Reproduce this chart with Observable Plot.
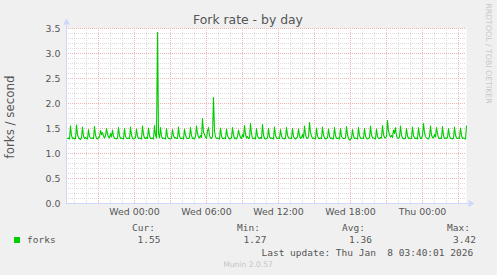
<!DOCTYPE html>
<html><head><meta charset="utf-8">
<script src="https://cdn.jsdelivr.net/npm/d3@7"></script>
<script src="https://cdn.jsdelivr.net/npm/@observablehq/plot@0.6"></script>
<style>
html,body{margin:0;padding:0;background:#f0f0f0;}
#chart{position:relative;width:497px;height:275px;overflow:hidden;background:#f0f0f0;}
</style></head><body><div id="chart"></div>
<script>
// ---- data ----
const title = "Fork rate - by day";
const yLabel = "forks / second";
const seriesName = "forks";
const seriesColor = "#00CC00";
const graphStart = "2026-01-06T18:20:00Z";   // left edge
const graphEnd = "2026-01-08T03:40:00Z";     // right edge (last update)
const stepMinutes = 5;
const forks = [
1.30,1.31,1.29,1.55,1.36,1.30,
1.31,1.29,1.30,1.57,1.38,1.31,
1.30,1.28,1.31,1.53,1.35,1.30,
1.32,1.30,1.29,1.48,1.34,1.31,
1.30,1.31,1.30,1.54,1.37,1.30,
1.29,1.31,1.33,1.46,1.38,1.42,
1.35,1.31,1.36,1.50,1.39,1.33,
1.31,1.40,1.33,1.47,1.35,1.30,
1.30,1.29,1.31,1.52,1.36,1.30,
1.31,1.30,1.29,1.50,1.34,1.31,
1.30,1.31,1.30,1.53,1.37,1.30,
1.29,1.30,1.32,1.49,1.35,1.30,
1.31,1.30,1.29,1.55,1.38,1.31,
1.30,1.32,1.30,1.51,1.36,1.30,
1.30,1.31,1.29,1.56,1.37,1.31,
3.42,1.40,1.31,1.52,1.35,1.30,
1.31,1.30,1.29,1.50,1.34,1.30,
1.30,1.29,1.31,1.48,1.36,1.31,
1.32,1.30,1.30,1.53,1.35,1.30,
1.30,1.31,1.29,1.49,1.37,1.31,
1.30,1.30,1.32,1.52,1.36,1.30,
1.31,1.29,1.34,1.55,1.40,1.33,
1.31,1.36,1.32,1.70,1.42,1.38,
1.33,1.30,1.45,1.52,1.36,1.31,
1.30,1.34,2.12,1.45,1.33,1.30,
1.31,1.30,1.29,1.51,1.35,1.30,
1.30,1.31,1.30,1.49,1.36,1.31,
1.29,1.30,1.31,1.52,1.37,1.30,
1.31,1.29,1.34,1.47,1.38,1.32,
1.30,1.38,1.33,1.56,1.39,1.31,
1.34,1.30,1.31,1.60,1.40,1.30,
1.30,1.31,1.29,1.50,1.35,1.31,
1.30,1.32,1.30,1.58,1.37,1.30,
1.29,1.30,1.31,1.50,1.34,1.30,
1.31,1.30,1.29,1.53,1.36,1.31,
1.30,1.31,1.30,1.48,1.35,1.30,
1.30,1.29,1.31,1.52,1.37,1.31,
1.31,1.30,1.30,1.50,1.34,1.30,
1.29,1.31,1.33,1.49,1.36,1.30,
1.32,1.38,1.31,1.55,1.38,1.31,
1.30,1.33,1.62,1.42,1.35,1.30,
1.31,1.30,1.29,1.51,1.35,1.30,
1.30,1.31,1.30,1.53,1.37,1.31,
1.29,1.30,1.31,1.49,1.35,1.30,
1.31,1.29,1.30,1.52,1.36,1.30,
1.30,1.31,1.29,1.50,1.34,1.31,
1.30,1.30,1.31,1.54,1.38,1.30,
1.27,1.29,1.30,1.48,1.35,1.30,
1.31,1.30,1.29,1.52,1.36,1.31,
1.30,1.31,1.30,1.50,1.35,1.30,
1.29,1.30,1.32,1.55,1.37,1.31,
1.31,1.30,1.29,1.49,1.34,1.30,
1.30,1.32,1.31,1.56,1.38,1.32,
1.31,1.34,1.66,1.45,1.38,1.33,
1.36,1.32,1.47,1.40,1.52,1.35,
1.31,1.30,1.33,1.55,1.37,1.31,
1.30,1.29,1.31,1.50,1.35,1.30,
1.31,1.30,1.30,1.53,1.36,1.31,
1.30,1.31,1.29,1.52,1.37,1.30,
1.30,1.36,1.60,1.42,1.34,1.31,
1.30,1.29,1.34,1.55,1.37,1.32,
1.31,1.38,1.33,1.52,1.40,1.31,
1.30,1.31,1.30,1.54,1.36,1.30,
1.31,1.30,1.32,1.50,1.35,1.30,
1.30,1.29,1.31,1.53,1.37,1.31,
1.30,1.31,1.30,1.51,1.36,1.30,
1.31,1.30,1.29,1.55
];
const yTicks = [0, 0.5, 1, 1.5, 2, 2.5, 3, 3.5];
const yTickLabels = ["0.0","0.5","1.0","1.5","2.0","2.5","3.0","3.5"];
const xTickTimes = ["2026-01-07T00:00:00Z","2026-01-07T06:00:00Z","2026-01-07T12:00:00Z","2026-01-07T18:00:00Z","2026-01-08T00:00:00Z"];
const xTickLabels = ["Wed 00:00","Wed 06:00","Wed 12:00","Wed 18:00","Thu 00:00"];
const statNames = ["Cur:","Min:","Avg:","Max:"];
const statValues = ["1.55","1.27","1.36","3.42"];
const lastUpdate = "Last update: Thu Jan  8 03:40:01 2026";
const footer = "Munin 2.0.57";
const watermark = "RRDTOOL / TOBI OETIKER";

// ---- build ----
const t0 = new Date(graphStart), t1 = new Date(graphEnd);
const data = forks.map((v, i) => ({t: new Date(+t0 + (i + 1) * stepMinutes * 60000), v}));
const xTicks = xTickTimes.map(s => new Date(s));
const minorX = d3.utcHour.range(t0, t1);
const majorX = d3.utcHour.every(3).range(t0, t1);
const minorY = d3.range(0, 36).map(i => i / 10).filter(v => Math.abs(v * 2 - Math.round(v * 2)) > 1e-6);
const axisColor = "#CFD6F8";
const textColor = "#555555";
const arrowX = new Date(+t1 + 20 * 60000);

const svg = Plot.plot({
  width: 497, height: 275,
  marginLeft: 66, marginRight: 31, marginTop: 28, marginBottom: 72,
  style: {background: "transparent", fontFamily: "DejaVu Sans", fontSize: "9.4px", color: textColor, overflow: "visible"},
  x: {type: "utc", domain: [t0, t1]},
  y: {domain: [0, 3.5]},
  marks: [
    Plot.frame({fill: "white", stroke: null}),
    Plot.ruleX(minorX, {stroke: "#dcdcdc", strokeDasharray: "1,1"}),
    Plot.ruleY(minorY, {stroke: "#dcdcdc", strokeDasharray: "1,1"}),
    Plot.ruleX(majorX, {stroke: "#eeb4b4", strokeDasharray: "1,1"}),
    Plot.ruleY(yTicks.slice(1), {stroke: "#eeb4b4", strokeDasharray: "1,1"}),
    Plot.line(data, {x: "t", y: "v", stroke: seriesColor, strokeWidth: 1.1}),
    Plot.ruleX([t0], {y1: 0, y2: 3.58, stroke: axisColor}),
    Plot.ruleY([0], {x1: t0, x2: new Date(+t1 + 10 * 60000), stroke: axisColor}),
    Plot.dot([t0], {x: d => d, y: 3.62, symbol: "triangle", r: 2.6, fill: axisColor, stroke: null}),
    Plot.dot([arrowX], {x: d => d, y: 0, symbol: "triangle", r: 2.6, rotate: 90, fill: axisColor, stroke: null}),
    Plot.axisY({ticks: yTicks, tickFormat: d => yTickLabels[yTicks.indexOf(d)], tickSize: 0, tickPadding: 6, label: null}),
    Plot.axisX({ticks: xTicks, tickFormat: d => xTickLabels[xTicks.findIndex(e => +e === +d)], tickSize: 0, tickPadding: 5, label: null})
  ]
});

const s = d3.select(svg);
function txt(str, x, y, o = {}) {
  const e = s.append("text").attr("x", x).attr("y", y).text(str)
    .attr("fill", o.fill || textColor)
    .attr("font-family", o.family || "DejaVu Sans Mono")
    .attr("font-size", o.size || "9.5px")
    .attr("text-anchor", o.anchor || "start")
    .style("white-space", "pre");
  if (o.rotate) e.attr("transform", `rotate(${o.rotate},${x},${y})`);
  return e;
}
txt(title, 248, 24, {family: "DejaVu Sans", size: "12.4px", anchor: "middle"});
txt(yLabel, 14, 117, {family: "DejaVu Sans", size: "11.8px", anchor: "middle", rotate: -90});
s.append("rect").attr("x", 14).attr("y", 237).attr("width", 6).attr("height", 6).attr("fill", seriesColor);
txt(seriesName, 27, 243);
const statX = [132, 237, 342, 447];
const valX = [137.5, 243.5, 349, 453];
statNames.forEach((n, i) => { txt(n, statX[i], 230.5); txt(statValues[i], valX[i], 243); });
txt(lastUpdate, 261.5, 255.5);
txt(footer, 248, 267, {family: "DejaVu Sans", size: "7.6px", anchor: "middle", fill: "#c4c4c4"});
txt(watermark, 486, 53.5, {family: "DejaVu Sans", size: "7.8px", anchor: "middle", fill: "#c8c8c8", rotate: 90});

document.getElementById("chart").appendChild(svg);
</script></body></html>
